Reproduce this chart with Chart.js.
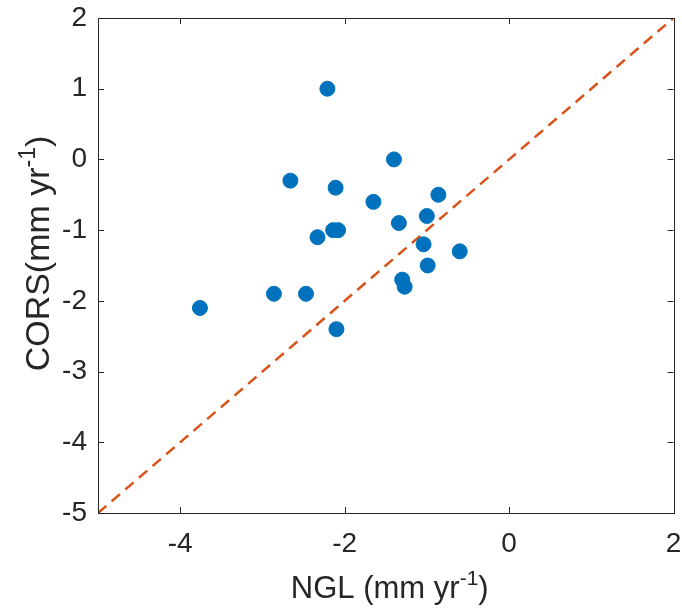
<!DOCTYPE html>
<html>
<head>
<meta charset="UTF-8">
<title>NGL vs CORS</title>
<style>
  body { margin: 0; background: #fff; }
  #wrap { width: 682px; height: 610px; }
</style>
</head>
<body>
<div id="wrap"><canvas id="chart" width="682" height="610"></canvas></div>
<script src="https://cdn.jsdelivr.net/npm/chart.js"></script>
<script>
// station velocities (mm/yr)
const nglVel = [-2.21, -1.40, -2.66, -2.11, -0.86, -1.65, -1.34, -1.00, -2.14, -2.08,
                -2.33, -1.04, -0.60, -0.99, -1.30, -1.27, -2.86, -2.47, -3.76, -2.10];
const corsVel = [1.0, 0.0, -0.3, -0.4, -0.5, -0.6, -0.9, -0.8, -1.0, -1.0,
                 -1.1, -1.2, -1.3, -1.5, -1.7, -1.8, -1.9, -1.9, -2.1, -2.4];
// 1:1 reference line
const lineX = [-5, 2];
const lineY = [-5, 2];
const xTicks = [-4, -2, 0, 2];
const yTicks = [2, 1, 0, -1, -2, -3, -4, -5];
// axis titles as [text, superscript, tail]
const xTitle = ['NGL (mm yr', '-1', ')'];
const yTitle = ['CORS(mm yr', '-1', ')'];

const axisColor = '#262626';
const font = "'Liberation Sans', Arial, Helvetica, sans-serif";

// MATLAB-style box with inward ticks
const boxPlugin = {
  id: 'box',
  afterDatasetsDraw(chart) {
    const { ctx, chartArea: a, scales } = chart;
    ctx.save();
    ctx.strokeStyle = axisColor;
    ctx.lineWidth = 1;
    ctx.strokeRect(Math.round(a.left) + 0.5, Math.round(a.top) + 0.5,
                   Math.round(a.right - a.left), Math.round(a.bottom - a.top));
    const tl = 6;
    ctx.beginPath();
    xTicks.forEach(v => {
      const px = Math.round(scales.x.getPixelForValue(v)) + 0.5;
      ctx.moveTo(px, a.bottom); ctx.lineTo(px, a.bottom - tl);
      ctx.moveTo(px, a.top); ctx.lineTo(px, a.top + tl);
    });
    yTicks.forEach(v => {
      const py = Math.round(scales.y.getPixelForValue(v)) + 0.5;
      ctx.moveTo(a.left, py); ctx.lineTo(a.left + tl, py);
      ctx.moveTo(a.right, py); ctx.lineTo(a.right - tl, py);
    });
    ctx.stroke();
    ctx.restore();
  }
};

// axis titles with a raised exponent
function drawSupTitle(ctx, parts, size) {
  const supSize = Math.round(size * 0.68);
  const main = size + 'px ' + font, sup = supSize + 'px ' + font;
  ctx.font = main;
  const w0 = ctx.measureText(parts[0]).width;
  const w2 = ctx.measureText(parts[2]).width;
  ctx.font = sup;
  const w1 = ctx.measureText(parts[1]).width;
  let x = -(w0 + w1 + w2) / 2;
  ctx.textBaseline = 'alphabetic';
  ctx.textAlign = 'left';
  ctx.font = main;
  ctx.fillText(parts[0], x, 0);
  x += w0;
  ctx.font = sup;
  ctx.fillText(parts[1], x, -size * 0.42);
  x += w1;
  ctx.font = main;
  ctx.fillText(parts[2], x, 0);
}

const titlePlugin = {
  id: 'titles',
  afterDraw(chart) {
    const { ctx, chartArea: a } = chart;
    ctx.save();
    ctx.fillStyle = axisColor;
    ctx.translate((a.left + a.right) / 2 + 4, 598);
    drawSupTitle(ctx, xTitle, 31);
    ctx.restore();
    ctx.save();
    ctx.fillStyle = axisColor;
    ctx.translate(49, (a.top + a.bottom) / 2 - 12);
    ctx.rotate(-Math.PI / 2);
    drawSupTitle(ctx, yTitle, 34);
    ctx.restore();
  }
};

new Chart(document.getElementById('chart'), {
  type: 'scatter',
  data: {
    datasets: [
      {
        type: 'line',
        data: lineX.map((x, i) => ({ x: x, y: lineY[i] })),
        borderColor: '#D95319',
        borderWidth: 2.5,
        borderDash: [11, 7],
        pointRadius: 0,
        fill: false,
        order: 2
      },
      {
        data: nglVel.map((x, i) => ({ x: x, y: corsVel[i] })),
        backgroundColor: '#0072BD',
        borderColor: '#0072BD',
        pointRadius: 7.5,
        order: 1
      }
    ]
  },
  options: {
    responsive: false,
    animation: false,
    layout: { padding: { left: 0, right: 6, top: 18, bottom: 0 } },
    plugins: { legend: { display: false }, tooltip: { enabled: false } },
    scales: {
      x: {
        type: 'linear',
        min: -5, max: 2,
        afterBuildTicks: s => { s.ticks = xTicks.map(v => ({ value: v })); },
        afterFit: s => { s.height = 97; s.paddingLeft = 0; s.paddingRight = 0; },
        grid: { display: false, drawTicks: false },
        border: { display: false },
        ticks: { color: axisColor, font: { family: font, size: 28 }, padding: 14 }
      },
      y: {
        type: 'linear',
        min: -5, max: 2,
        afterBuildTicks: s => { s.ticks = yTicks.map(v => ({ value: v })); },
        afterFit: s => { s.width = 98; s.paddingTop = 0; s.paddingBottom = 0; },
        grid: { display: false, drawTicks: false },
        border: { display: false },
        ticks: { color: axisColor, font: { family: font, size: 28 }, padding: 11 }
      }
    }
  },
  plugins: [boxPlugin, titlePlugin]
});
</script>
</body>
</html>
